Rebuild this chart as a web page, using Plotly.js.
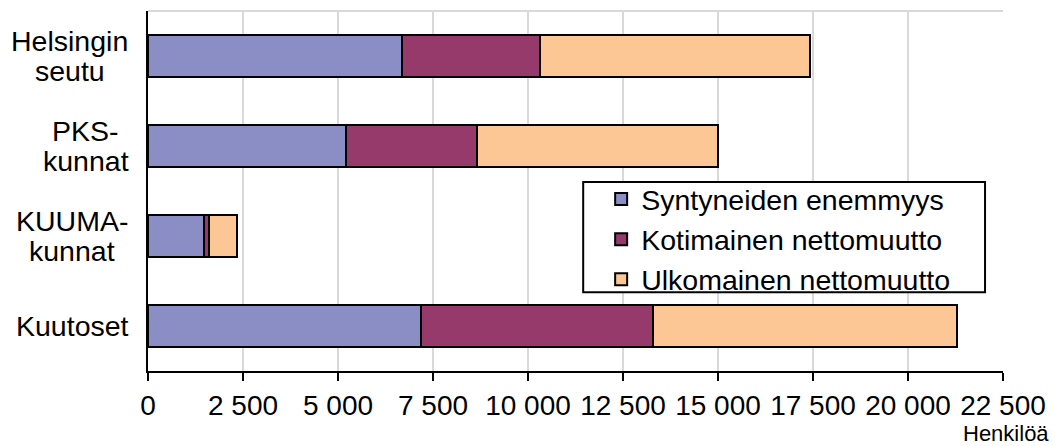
<!DOCTYPE html>
<html>
<head>
<meta charset="utf-8">
<script src="https://cdn.plot.ly/plotly-3.0.1.min.js"></script>
<style>html,body{margin:0;padding:0;background:#fff;}#chart{width:1059px;height:446px;}</style>
</head>
<body>
<div id="chart"></div>
<script>
// Data
const categories = ["Helsingin seutu", "PKS-kunnat", "KUUMA-kunnat", "Kuutoset"];
const categoryLabels = ["Helsingin<br>seutu", "PKS-<br>kunnat", "KUUMA-<br>kunnat", "Kuutoset"];
const seriesNames = ["Syntyneiden enemmyys", "Kotimainen nettomuutto", "Ulkomainen nettomuutto"];
const syntyneidenEnemmyys = [6690, 5200, 1480, 7190];
const kotimainenNettomuutto = [3620, 3460, 120, 6100];
const ulkomainenNettomuutto = [7115, 6340, 750, 8000];
const xTickValues = [0, 2500, 5000, 7500, 10000, 12500, 15000, 17500, 20000, 22500];
const xAxisUnit = "Henkilöä";

const colors = ["#8b8ec4", "#963a6c", "#fdc795"];
const FONT = "Liberation Sans, Arial, sans-serif";
const CAT_FS = 28.5;
const TICK_FS = 28;
const LEG_FS = 28.5;

const seriesValues = [syntyneidenEnemmyys, kotimainenNettomuutto, ulkomainenNettomuutto];
const traces = seriesValues.map((vals, i) => ({
  type: "bar",
  orientation: "h",
  name: seriesNames[i],
  y: categories,
  x: vals,
  marker: { color: colors[i], line: { color: "#000", width: 2 } },
  hoverinfo: "skip"
}));

// measure text to centre the lines of each category label as a block
const cv = document.createElement("canvas").getContext("2d");
function textWidth(t, size) {
  cv.font = size + "px 'Liberation Sans', Arial, sans-serif";
  return cv.measureText(t).width;
}

const annotations = [];
categories.forEach((c, i) => {
  const lines = categoryLabels[i].split("<br>");
  const maxW = Math.max(...lines.map(l => textWidth(l, CAT_FS)));
  const n = lines.length;
  lines.forEach((line, j) => {
    annotations.push({
      xref: "paper", yref: "y", x: 0, y: c,
      xanchor: "center", yanchor: "middle",
      xshift: -19.5 - maxW / 2,
      yshift: ((n - 1) / 2 - j) * 30,
      text: line, showarrow: false,
      font: { family: FONT, size: CAT_FS, color: "#000" }
    });
  });
});
annotations.push({
  xref: "paper", yref: "paper", x: 1, y: 0,
  xanchor: "right", yanchor: "middle", xshift: 48, yshift: -62,
  text: xAxisUnit, showarrow: false,
  font: { family: FONT, size: 22, color: "#000" }
});

const layout = {
  width: 1059, height: 446,
  margin: { l: 148, r: 56, t: 11, b: 75, pad: 0 },
  paper_bgcolor: "#fff", plot_bgcolor: "#fff",
  barmode: "stack",
  bargap: 0.54,
  separators: ", ",
  font: { family: FONT, size: TICK_FS, color: "#000" },
  showlegend: true,
  legend: {
    x: 0.530, y: 0.547, xanchor: "left", yanchor: "top",
    traceorder: "normal",
    bgcolor: "rgba(0,0,0,0)", borderwidth: 0,
    font: { family: FONT, size: LEG_FS, color: "#000" }
  },
  xaxis: {
    range: [0, 22500],
    tickvals: xTickValues,
    tickformat: ",d",
    showgrid: true, gridcolor: "#d9d9d9", gridwidth: 2,
    zeroline: false,
    showline: true, linecolor: "#000", linewidth: 2,
    ticks: "outside", ticklen: 8, tickwidth: 2, tickcolor: "#000",
    ticklabelstandoff: 0,
    tickfont: { family: FONT, size: TICK_FS, color: "#000" },
    fixedrange: true
  },
  yaxis: {
    type: "category",
    categoryorder: "array", categoryarray: categories,
    autorange: "reversed",
    showgrid: false, zeroline: false,
    showline: true, linecolor: "#000", linewidth: 2,
    ticks: "", showticklabels: false,
    fixedrange: true
  },
  shapes: [
    { type: "line", xref: "paper", yref: "paper", x0: 0, x1: 1, y0: 1, y1: 1,
      line: { color: "#d9d9d9", width: 2 }, layer: "below" },
    { type: "rect", xref: "paper", yref: "paper", x0: 0.509, x1: 0.979, y0: 0.219, y1: 0.525,
      line: { color: "#000", width: 2 }, fillcolor: "#fff", layer: "above" }
  ],
  annotations: annotations
};

Plotly.newPlot("chart", traces, layout, { displayModeBar: false, staticPlot: true });
</script>
</body>
</html>
